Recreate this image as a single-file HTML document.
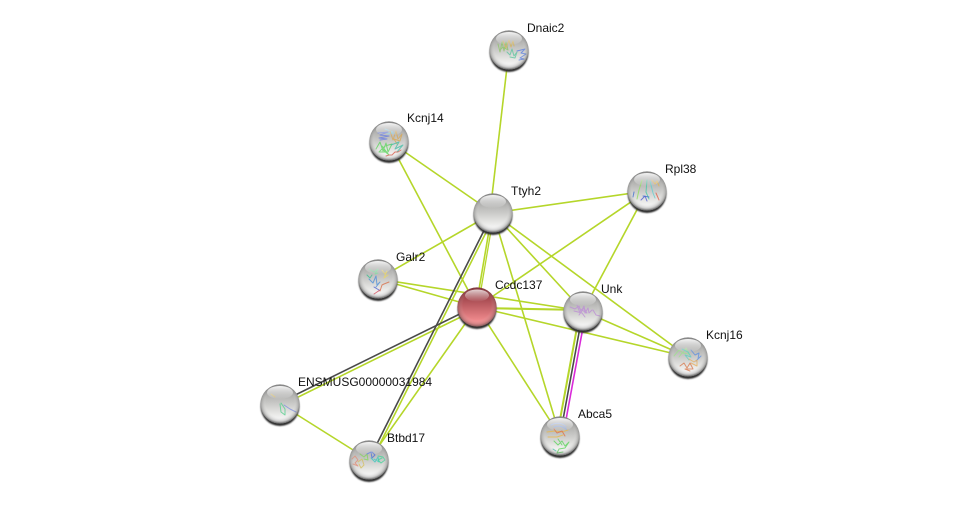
<!DOCTYPE html>
<html><head><meta charset="utf-8"><style>
html,body{margin:0;padding:0;background:#fff;width:975px;height:505px;overflow:hidden}
svg{display:block}
text{font-family:"Liberation Sans",sans-serif;font-size:12px;fill:#111}
.g{stroke:#b5d62a;stroke-width:1.6;fill:none}
.k{stroke:#4a4a4a;stroke-width:1.6;fill:none}
.m{stroke:#d92ad9;stroke-width:1.6;fill:none}
.s{fill:none;stroke-width:1;opacity:.8;stroke-linecap:round;stroke-linejoin:round}
</style></head><body>
<svg width="975" height="505" viewBox="0 0 975 505" xmlns="http://www.w3.org/2000/svg">
<defs>
<linearGradient id="b" x1="0" y1="0" x2="0" y2="1"><stop offset="0" stop-color="#828282"/><stop offset=".3" stop-color="#b4b4b2"/><stop offset=".7" stop-color="#e2e2e0"/><stop offset=".92" stop-color="#fbfbfb"/><stop offset="1" stop-color="#fff"/></linearGradient>
<linearGradient id="r" x1="0" y1="0" x2="0" y2="1"><stop offset="0" stop-color="#7f2a30"/><stop offset=".35" stop-color="#b05258"/><stop offset=".85" stop-color="#f08a8d"/><stop offset="1" stop-color="#f28e90"/></linearGradient>
<radialGradient id="e" cx=".5" cy=".46" r=".53"><stop offset=".68" stop-color="#fff" stop-opacity="0"/><stop offset=".9" stop-color="#555" stop-opacity=".28"/><stop offset="1" stop-color="#333" stop-opacity=".7"/></radialGradient>
<linearGradient id="h" x1="0" y1="0" x2="0" y2="1"><stop offset="0" stop-color="#fff" stop-opacity=".9"/><stop offset="1" stop-color="#fff" stop-opacity=".02"/></linearGradient>
<filter id="bl" x="-20%" y="-20%" width="140%" height="140%"><feGaussianBlur stdDeviation=".7"/></filter>
<g id="bg"><circle cy="2.6" r="19.4" fill="#2e2e2e" filter="url(#bl)"/><circle r="19.6" fill="url(#b)"/></g>
<g id="top"><circle r="19.6" fill="url(#e)"/><ellipse cy="-11.5" rx="13" ry="6.5" fill="url(#h)"/></g>
</defs>

<g class="g">
<line x1="509" y1="50" x2="490" y2="213"/>
<line x1="389" y1="141" x2="493" y2="213"/>
<line x1="389" y1="141" x2="477" y2="307"/>
<line x1="493" y1="213" x2="647" y2="191"/>
<line x1="493" y1="213" x2="378" y2="279"/>
<line x1="492" y1="213" x2="476" y2="307"/>
<line x1="494" y1="213" x2="478" y2="307" stroke-width="1.3"/>
<line x1="493" y1="213" x2="583" y2="311"/>
<line x1="493" y1="213" x2="688" y2="357"/>
<line x1="493" y1="213" x2="560" y2="436"/>
<line x1="495.8" y1="213" x2="371.8" y2="460"/>
<line x1="647" y1="191" x2="477" y2="307"/>
<line x1="647" y1="191" x2="583" y2="311"/>
<line x1="378" y1="279" x2="477" y2="307"/>
<line x1="378" y1="279" x2="583" y2="311"/>
<line x1="477" y1="308" x2="583" y2="310" stroke-width="2.1"/>
<line x1="477" y1="307" x2="688" y2="357"/>
<line x1="477" y1="307" x2="560" y2="436"/>
<line x1="477" y1="309" x2="280" y2="406"/>
<line x1="477" y1="307" x2="369" y2="460"/>
<line x1="583" y1="311" x2="688" y2="357"/>
<line x1="580" y1="311" x2="557" y2="436" stroke-width="2"/>
<line x1="280" y1="404" x2="369" y2="460"/>
</g>
<line class="k" x1="583" y1="311" x2="560" y2="436"/>
<line class="m" x1="586" y1="311" x2="563" y2="436"/>
<line class="k" x1="477" y1="305.5" x2="280" y2="402.5"/>
<line class="k" x1="492.8" y1="213" x2="368.8" y2="460"/>

<!-- Dnaic2 -->
<g transform="translate(509,50)"><use href="#bg"/>
<path class="s" stroke="#8fc46a" d="M-11-6l2 8 2-10 2 9 2-9 2 8-5-3-3 3"/><path class="s" stroke="#d4b45a" d="M-6-9l3 7 3-8 2 7 2-6 1 5"/><path class="s" stroke="#5fc6a0" d="M-2 2l3 3 2-6 2 7 3-4-2 6-5-1"/><path class="s" stroke="#5c7fe0" d="M8 1l8-2-4 4 5 1-6 4 4 1-5 1"/>
<use href="#top"/></g>
<!-- Kcnj14 -->
<g transform="translate(389,141)"><use href="#bg"/>
<path class="s" stroke="#6a7ee0" stroke-width="1.5" d="M-11-8l10-1-8 3 9 1-10 2 8 1-7 1"/><path class="s" stroke="#8ac8e0" d="M-4-12l8 3-6 2 9-1"/><path class="s" stroke="#d8a855" stroke-width="1.5" d="M1-10l3 9 3-9 2 8 4-5-2 7-6-2 3 5"/><path class="s" stroke="#5ed45e" stroke-width="1.5" d="M-13 8l4-7 3 9 3-8 2 9 4-8-7 2-6 6 7 0-4-6 7 9-7-6"/><path class="s" stroke="#46bda8" d="M2 4l8-3-4 7 8-4-6 7"/><path class="s" stroke="#d65a4a" d="M-3 15l3-1 3 0 3-3 3 0 3-2"/>
<use href="#top"/></g>
<!-- Ttyh2 -->
<g transform="translate(493,213)"><use href="#bg"/><use href="#top"/></g>
<!-- Rpl38 -->
<g transform="translate(647,191)"><use href="#bg"/>
<path class="s" stroke="#8ede5e" stroke-width="2.4" d="M-5-11l-3 10-2 9"/><path class="s" stroke="#46c9a6" stroke-width="2.4" d="M0-11l-1 12 3 7"/><path class="s" stroke="#5fd0d0" stroke-width="1.8" d="M3-10l3 12 2 5"/><path class="s" stroke="#3f6fd0" stroke-width="2.6" d="M-13 1l-1 5M-4 5l6 1"/><path class="s" stroke="#e8b84a" stroke-width="2.2" d="M5-11l3 4 2-3 2 5"/><path class="s" stroke="#e0604a" stroke-width="2.2" d="M9 2l3 7"/><path class="s" stroke="#5060d0" d="M-6 9l4-4 2 5"/>
<use href="#top"/></g>
<!-- Galr2 -->
<g transform="translate(378,279)"><use href="#bg"/>
<path class="s" stroke="#7fdca0" d="M-9-10l5 3 4-3-3 5 3-1"/><path class="s" stroke="#e8d46a" stroke-width="1.3" d="M4-9l3 4 2-3-3 7 4-3"/><path class="s" stroke="#4f90d8" stroke-width="2" d="M-9 0l4 4 3-7 1 9 3-3-4 5"/><path class="s" stroke="#3ebf8e" stroke-width="1.3" d="M-11-4l3 3 2-3"/><path class="s" stroke="#d8704a" stroke-width="1.8" d="M2 12l2-6 2-1 5-2"/><path class="s" stroke="#d84a5a" stroke-width="1.6" d="M-4 15l6-4"/><path class="s" stroke="#5060d0" d="M-4 8l5 3"/>
<use href="#top"/></g>
<!-- Ccdc137 -->
<g transform="translate(477,307)"><circle cy="2.6" r="19.4" fill="#2e2e2e" filter="url(#bl)"/><circle r="19.6" fill="url(#r)"/><circle r="19.6" fill="url(#e)" opacity=".75"/><ellipse cy="-11.5" rx="12" ry="6" fill="url(#h)" opacity=".85"/></g>
<!-- Unk -->
<g transform="translate(583,311)"><use href="#bg"/>
<path class="s" stroke="#bd8fd6" stroke-width=".9" d="M-13-4l5 2 4-3 2 6 3-6 1 7 3-5 1 5 3-3M-9 0l8 2 3 4M-4-3l6 4M10-1l3 5 4 1M-6-6l3 8 4-6 2 6M-4 4l5-7 3 5"/>
<use href="#top"/></g>
<!-- Kcnj16 -->
<g transform="translate(688,357)"><use href="#bg"/>
<path class="s" stroke="#9fe08e" stroke-width=".9" d="M-14-1l5-6 4 3 3-5 3 6-7-1-3 4"/><path class="s" stroke="#5fd0c0" stroke-width=".9" d="M-6-8l6 3 3 5-6-2 4 5"/><path class="s" stroke="#5f90e0" stroke-width=".9" d="M3-7l4 5 4-2-1 6 3-3-5 5"/><path class="s" stroke="#e8b060" stroke-width=".9" d="M1 2l5 3 3-2 0 6-6-3"/><path class="s" stroke="#d87a50" d="M-8 9l4-3 3 5 3-5 3 6-8 0 5 2"/>
<use href="#top"/></g>
<!-- ENSMUSG -->
<g transform="translate(280,404)"><use href="#bg"/>
<path class="s" stroke="#e0c060" stroke-width="1.4" d="M-9-10l4 3"/><path class="s" stroke="#56d08e" stroke-width="1.8" d="M0 0l1 8 4 3 0-6-4-6"/><path class="s" stroke="#8090e0" stroke-width=".7" d="M4 1l6 4 6 3"/>
<use href="#top"/></g>
<!-- Btbd17 -->
<g transform="translate(369,460)"><use href="#bg"/>
<path class="s" stroke="#e08e78" stroke-width="1.6" d="M-17-1l3-3 3 4-3 3 3 3-5-2"/><path class="s" stroke="#d4c060" stroke-width="1.5" d="M-11 2l4-3 2 6-3 3-2-4"/><path class="s" stroke="#86d45e" stroke-width="1.5" d="M-9-6l4 3 3-3 1 6-4-1"/><path class="s" stroke="#4f70d8" stroke-width="1.4" d="M-2-6l4-2 1 6 3-3-3-3"/><path class="s" stroke="#3ec8c0" stroke-width="1.8" d="M2-2l4 4 3-5 1 5-5-3"/><path class="s" stroke="#46d49a" stroke-width="2" d="M9-4l5 1 2 3-4 3-3-3 4-2"/>
<use href="#top"/></g>
<!-- Abca5 -->
<g transform="translate(560,436)"><use href="#bg"/>
<path class="s" stroke="#8aa8e8" stroke-width=".8" d="M-9-11c6-3 12-2 15 2M-6-9c5-2 9-1 13 3"/><path class="s" stroke="#e8b84a" stroke-width="1.5" d="M-13-4l8-1 7 1 6-2M-12 1l9 0 6-2"/><path class="s" stroke="#e0704a" stroke-width="1.4" d="M-6-7l3 4 5-2 3 5"/><path class="s" stroke="#5ed45e" stroke-width="1.8" d="M-6 5l4 4 4-4 3 5 4-4-4 6-6 1-2 4 6-1M-2 3l4 6"/><path class="s" stroke="#3fc8a8" d="M-7 13l3 2"/>
<use href="#top"/></g>

<text x="527" y="32">Dnaic2</text>
<text x="407" y="122">Kcnj14</text>
<text x="511" y="195">Ttyh2</text>
<text x="665" y="173">Rpl38</text>
<text x="396" y="261">Galr2</text>
<text x="495" y="289">Ccdc137</text>
<text x="601" y="293">Unk</text>
<text x="706" y="339">Kcnj16</text>
<text x="298" y="386">ENSMUSG00000031984</text>
<text x="387" y="442">Btbd17</text>
<text x="578" y="418">Abca5</text>
</svg>
</body></html>
